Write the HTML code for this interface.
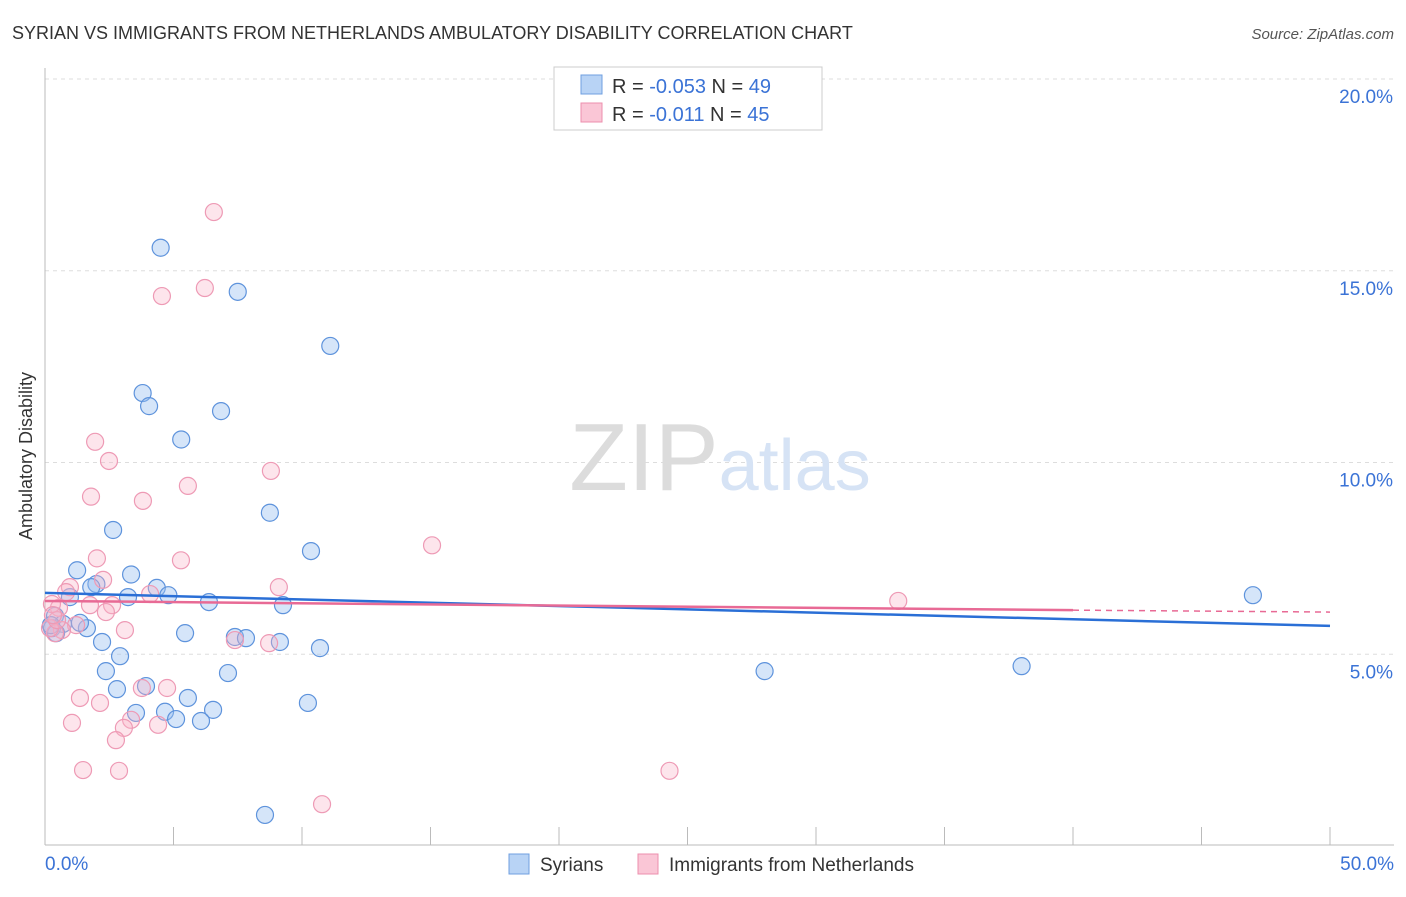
<!DOCTYPE html>
<html><head><meta charset="utf-8"><style>
body{margin:0;background:#fff;font-family:"Liberation Sans",sans-serif;}
svg text{font-family:"Liberation Sans",sans-serif;}
</style></head><body>
<svg id="chart" width="1406" height="892">
<text x="12" y="39" font-size="18" fill="#333">SYRIAN VS IMMIGRANTS FROM NETHERLANDS AMBULATORY DISABILITY CORRELATION CHART</text>
<text x="1394" y="39" font-size="15" fill="#555" font-style="italic" text-anchor="end">Source: ZipAtlas.com</text>
<text x="32" y="456" font-size="18" fill="#333" text-anchor="middle" transform="rotate(-90 32 456)">Ambulatory Disability</text>
<g id="grid"></g>
<text x="720" y="490" font-size="96" fill="#e4e4e4" text-anchor="middle" font-family="Liberation Serif"><tspan fill="#dcdcdc">ZIP</tspan><tspan fill="#d6e3f5" font-family="Liberation Sans" font-size="72">atlas</tspan></text>
<g id="points"></g>
<g id="trends"></g>
<g>
<rect x="554" y="67" width="268" height="63" fill="#fff" stroke="#ccc"/>
<rect x="581" y="75" width="21" height="19" fill="#b8d3f5" stroke="#6f9fe0"/>
<rect x="581" y="103" width="21" height="19" fill="#fac6d6" stroke="#ec8fad"/>
<text x="612" y="93" font-size="20" fill="#333">R = <tspan fill="#3b73d6">-0.053</tspan>   N = <tspan fill="#3b73d6">49</tspan></text>
<text x="612" y="121" font-size="20" fill="#333">R =  <tspan fill="#3b73d6"> -0.011</tspan>   N = <tspan fill="#3b73d6">45</tspan></text>
</g>
<g>
<rect x="509" y="854" width="20" height="20" fill="#b8d3f5" stroke="#6f9fe0"/>
<text x="540" y="871" font-size="19" fill="#333">Syrians</text>
<rect x="638" y="854" width="20" height="20" fill="#fac6d6" stroke="#ec8fad"/>
<text x="669" y="871" font-size="19" fill="#333">Immigrants from Netherlands</text>
</g>
</svg>
<script>
const xTickVals=[0,5,10,15,20,25,30,35,40,45,50];
const yTickVals=[5,10,15,20];
const yTickLabels=["5.0%","10.0%","15.0%","20.0%"];
const xEndLabels=["0.0%","50.0%"];
const syrX=[4.5,7.5,11.1,3.8,4.05,6.85,5.3,8.75,2.65,10.35,1.25,3.35,2.0,1.8,4.35,4.8,3.23,0.97,6.38,9.26,0.39,0.7,1.63,0.27,5.45,7.39,7.82,9.14,2.22,10.7,2.92,2.37,7.12,28.0,38.0,47.0,3.93,2.8,5.56,10.23,6.54,4.67,3.54,5.1,6.07,8.56,0.43,0.23,1.36];
const syrY=[15.6,14.45,13.04,11.81,11.47,11.34,10.6,8.69,8.24,7.69,7.19,7.08,6.83,6.75,6.73,6.54,6.49,6.49,6.36,6.28,6.0,5.79,5.68,5.68,5.55,5.45,5.42,5.32,5.32,5.16,4.95,4.56,4.51,4.56,4.69,6.54,4.17,4.09,3.86,3.73,3.55,3.5,3.47,3.31,3.26,0.81,5.55,5.76,5.82];
const nedX=[6.57,4.55,6.22,1.95,2.49,8.79,5.56,1.79,3.81,15.06,2.02,5.29,9.1,2.26,0.97,0.82,4.09,2.61,1.75,2.37,0.545,0.27,3.11,1.21,0.66,0.39,7.39,8.72,33.2,1.36,2.14,4.75,3.77,1.05,3.35,4.4,3.07,2.76,1.48,2.88,24.3,10.78,0.195,0.47,0.31];
const nedY=[16.53,14.34,14.55,10.54,10.04,9.78,9.39,9.11,9.0,7.84,7.5,7.45,6.75,6.94,6.75,6.62,6.57,6.28,6.28,6.1,6.21,6.31,5.63,5.76,5.63,5.55,5.37,5.29,6.39,3.86,3.73,4.12,4.12,3.21,3.29,3.16,3.08,2.76,1.98,1.96,1.96,1.09,5.68,5.89,6.02];
const syrTrend=[6.60,5.74];
const nedTrend=[6.39,6.15,6.10];
const nedSolidEnd=40;
const NS='http://www.w3.org/2000/svg';
const X0=45,X1=1330,YT=79,YB=846;
function sx(v){return X0+(v/50)*(X1-X0);}
function sy(v){return YB-(v/20)*(YB-YT);}
function mk(tag,attrs,parent){const e=document.createElementNS(NS,tag);for(const k in attrs)e.setAttribute(k,attrs[k]);parent.appendChild(e);return e;}
const grid=document.getElementById('grid');
yTickVals.forEach((v,i)=>{
  const l=mk('line',{x1:45,x2:1394,y1:sy(v),y2:sy(v),stroke:'#ddd','stroke-dasharray':'4,4'},grid);
  
  
  const t=mk('text',{x:1393,y:sy(v)+24,'font-size':19,fill:'#3b73d6','text-anchor':'end'},grid);
  t.textContent=yTickLabels[i];
  
  
});
const ax=mk('line',{x1:45,x2:45,y1:68,y2:845,stroke:'#bbb'},grid);


const bx=mk('line',{x1:45,x2:1394,y1:845,y2:845,stroke:'#bbb'},grid);


xTickVals.forEach(v=>{
  const t=mk('line',{x1:sx(v),x2:sx(v),y1:827,y2:845,stroke:'#bbb'},grid);
  
  
});
[[0,'start',45],[50,'end',1394]].forEach((a,i)=>{
  const t=mk('text',{x:a[2],y:870,'font-size':19,fill:'#3b73d6','text-anchor':a[1]},grid);
  t.textContent=xEndLabels[i];
  
  
});
const pts=document.getElementById('points');
syrX.forEach((v,i)=>{
  const c=mk('circle',{cx:sx(v),cy:sy(syrY[i]),r:8.5,fill:'rgba(150,190,240,0.4)',stroke:'#5e93dc','stroke-width':1.2},pts);
  
  
});
nedX.forEach((v,i)=>{
  const c=mk('circle',{cx:sx(v),cy:sy(nedY[i]),r:8.5,fill:'rgba(248,180,200,0.35)',stroke:'#ee9ab5','stroke-width':1.2},pts);
  
  
});
const tr=document.getElementById('trends');
const l1=mk('line',{x1:sx(0),y1:sy(syrTrend[0]),x2:sx(50),y2:sy(syrTrend[1]),stroke:'#2a6fd6','stroke-width':2.5},tr);


const l2=mk('line',{x1:sx(0),y1:sy(nedTrend[0]),x2:sx(nedSolidEnd),y2:sy(nedTrend[1]),stroke:'#e86a95','stroke-width':2.5},tr);


const l3=mk('line',{x1:sx(nedSolidEnd),y1:sy(nedTrend[1]),x2:sx(50),y2:sy(nedTrend[2]),stroke:'#e86a95','stroke-width':1.5,'stroke-dasharray':'6,5'},tr);


</script>
</body></html>
